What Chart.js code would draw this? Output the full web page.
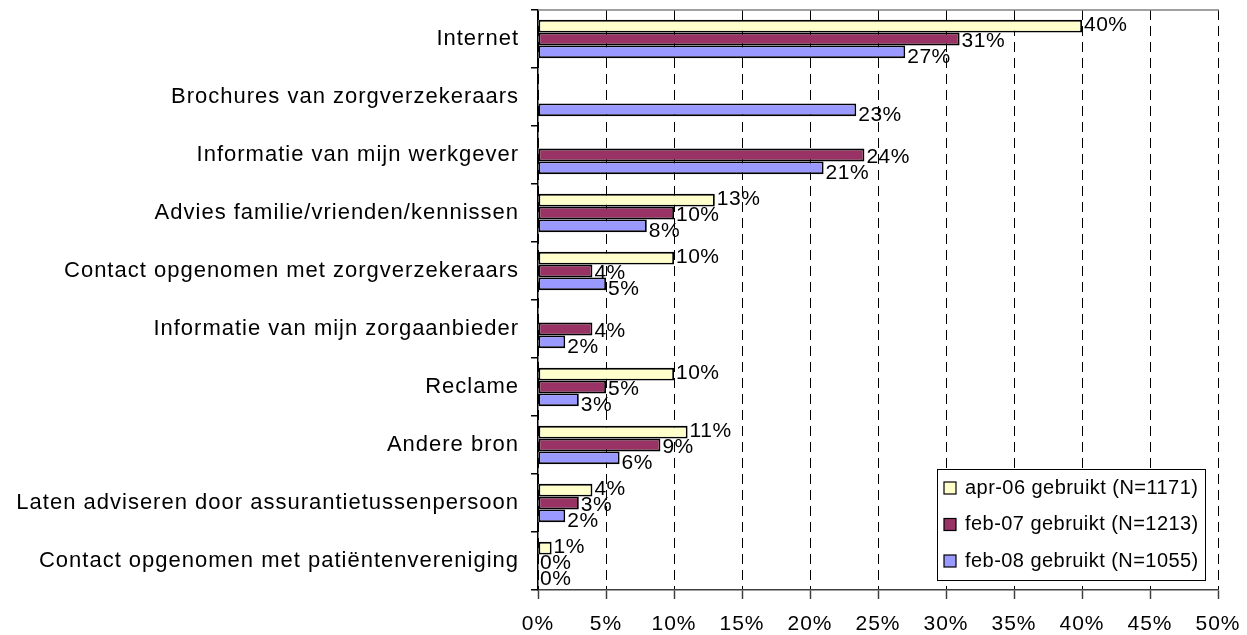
<!DOCTYPE html>
<html>
<head>
<meta charset="utf-8">
<script src="https://cdn.jsdelivr.net/npm/chart.js@4.4.1/dist/chart.umd.min.js"></script>
<style>
  html, body { margin: 0; padding: 0; background: #fff; }
  #wrap { width: 1247px; height: 635px; }
</style>
</head>
<body>
<div id="wrap"><canvas id="c" width="1247" height="635"></canvas></div>
<script>
const categories = [
  "Internet",
  "Brochures van zorgverzekeraars",
  "Informatie van mijn werkgever",
  "Advies familie/vrienden/kennissen",
  "Contact opgenomen met zorgverzekeraars",
  "Informatie van mijn zorgaanbieder",
  "Reclame",
  "Andere bron",
  "Laten adviseren door assurantietussenpersoon",
  "Contact opgenomen met patiëntenvereniging"
];
const seriesNames = [
  "apr-06 gebruikt (N=1171)",
  "feb-07 gebruikt (N=1213)",
  "feb-08 gebruikt (N=1055)"
];
const apr06 = [40, null, null, 13, 10, null, 10, 11, 4, 1];
const feb07 = [31, null, 24, 10, 4, 4, 5, 9, 3, 0];
const feb08 = [27, 23.4, 21, 8, 5, 2, 3, 6, 2, 0];
const xTicks = [0, 5, 10, 15, 20, 25, 30, 35, 40, 45, 50];

const colors = ["#FFFFCC", "#993366", "#9999FF"];
const labelDy = [-1, 2, 5];
const FONT = "'Liberation Sans', Arial, sans-serif";

const spacing = {
  id: "spacing",
  beforeDraw(chart) { chart.ctx.letterSpacing = "1px"; },
  beforeDatasetsDraw(chart) { chart.ctx.letterSpacing = "0px"; }
};

const dataLabels = {
  id: "dataLabels",
  afterDatasetsDraw(chart) {
    const ctx = chart.ctx;
    ctx.save();
    ctx.letterSpacing = "0.5px";
    ctx.font = "21px " + FONT;
    ctx.fillStyle = "#000";
    ctx.textAlign = "left";
    ctx.textBaseline = "middle";
    chart.data.datasets.forEach((ds, di) => {
      const meta = chart.getDatasetMeta(di);
      meta.data.forEach((bar, i) => {
        const v = ds.data[i];
        if (v === null || v === undefined) return;
        ctx.fillText(Math.round(v) + "%", bar.x + 2, bar.y + labelDy[di]);
      });
    });
    ctx.restore();
  }
};

const topBorder = {
  id: "topBorder",
  beforeDatasetsDraw(chart) {
    const a = chart.chartArea, ctx = chart.ctx;
    ctx.save();
    ctx.strokeStyle = "#808080";
    ctx.lineWidth = 1.5;
    ctx.beginPath();
    ctx.moveTo(a.left, a.top);
    ctx.lineTo(a.right + 1, a.top);
    ctx.stroke();
    ctx.restore();
  }
};

const boxLegend = {
  id: "boxLegend",
  afterDraw(chart) {
    const a = chart.chartArea, ctx = chart.ctx;
    const w = 268, h = 111;
    const x = a.right - 13 - w, y = a.bottom - 10 - h;
    ctx.save();
    ctx.letterSpacing = "0.45px";
    ctx.fillStyle = "#fff";
    ctx.fillRect(x, y, w, h);
    ctx.strokeStyle = "#000";
    ctx.lineWidth = 1;
    ctx.strokeRect(x + 0.5, y + 0.5, w, h);
    ctx.font = "20px " + FONT;
    ctx.textBaseline = "middle";
    chart.data.datasets.forEach((ds, i) => {
      const cy = y + 19 + i * 36.5;
      ctx.fillStyle = ds.backgroundColor;
      ctx.fillRect(x + 7, cy - 6, 12, 12);
      ctx.strokeStyle = "#000";
      ctx.lineWidth = 1.2;
      ctx.strokeRect(x + 7, cy - 6, 12, 12);
      ctx.fillStyle = "#000";
      ctx.fillText(ds.label, x + 28, cy);
    });
    ctx.restore();
  }
};

new Chart(document.getElementById("c"), {
  type: "bar",
  data: {
    labels: categories,
    datasets: [apr06, feb07, feb08].map((d, i) => ({
      label: seriesNames[i],
      data: d,
      backgroundColor: colors[i],
      borderColor: "#000",
      borderWidth: 1.8,
      borderSkipped: false,
      categoryPercentage: 0.66,
      barPercentage: 1.0
    }))
  },
  options: {
    indexAxis: "y",
    responsive: false,
    devicePixelRatio: 1,
    animation: false,
    layout: { padding: { top: 10, right: 29, left: 0, bottom: 0 } },
    plugins: {
      legend: { display: false },
      tooltip: { enabled: false }
    },
    scales: {
      x: {
        min: 0, max: 50,
        afterBuildTicks(scale) { scale.ticks = xTicks.map(v => ({ value: v })); },
        afterFit(scale) { scale.height = 45; scale.paddingLeft = 0; scale.paddingRight = 0; },
        ticks: {
          color: "#000",
          font: { family: FONT, size: 21 },
          padding: 13,
          callback: v => v + "%"
        },
        grid: {
          color: "#000",
          lineWidth: 1,
          tickLength: 9,
          tickColor: "#404040",
          tickWidth: 1.5
        },
        border: { color: "#404040", width: 1.5, dash: [10, 6] }
      },
      y: {
        afterFit(scale) { scale.width = 538; scale.paddingTop = 0; scale.paddingBottom = 0; },
        ticks: {
          color: "#000",
          font: { family: FONT, size: 22 },
          padding: 12,
          autoSkip: false
        },
        grid: {
          drawOnChartArea: false,
          tickLength: 7,
          color: "#000",
          lineWidth: 1.5
        },
        border: { color: "#000", width: 1.5 }
      }
    }
  },
  plugins: [spacing, topBorder, dataLabels, boxLegend]
});
</script>
</body>
</html>
